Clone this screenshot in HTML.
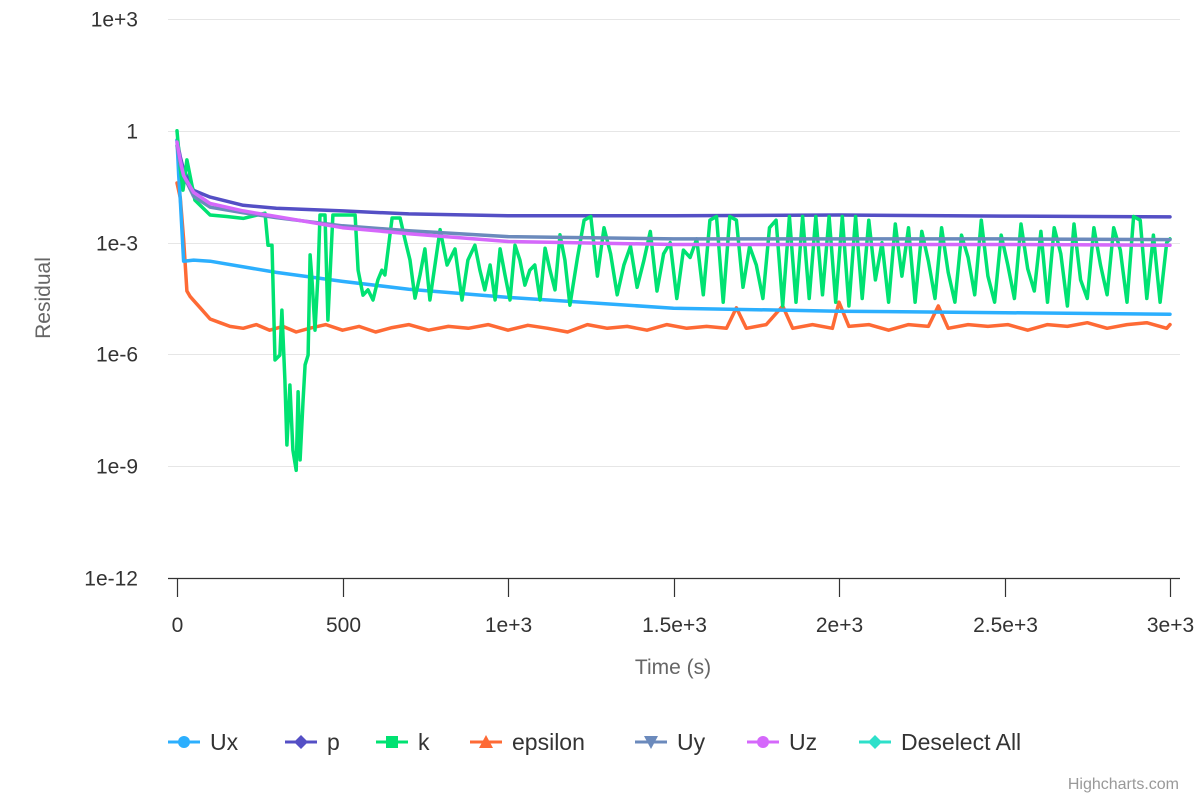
<!DOCTYPE html>
<html><head><meta charset="utf-8"><style>
html,body{margin:0;padding:0;background:#fff;}
svg text{font-family:"Liberation Sans",sans-serif;}
</style></head><body>
<svg id="chart" width="1200" height="800" xmlns="http://www.w3.org/2000/svg">
<rect width="1200" height="800" fill="#fff"/>
<g id="grid"></g>
<g id="axes"></g>
<g id="series"></g>
<text x="50" y="298" transform="rotate(-90 50 298)" text-anchor="middle" font-size="21" fill="#666">Residual</text>
<text x="673" y="674" text-anchor="middle" font-size="21" fill="#666">Time (s)</text>
<g id="legend"></g>
<text x="1179" y="789" text-anchor="end" font-size="16" fill="#999">Highcharts.com</text>
</svg>
<script>
const xTicks=[0,500,1000,1500,2000,2500,3000];
const xTickLabels=["0","500","1e+3","1.5e+3","2e+3","2.5e+3","3e+3"];
const yTicks=[3,0,-3,-6,-9,-12];
const yTickLabels=["1e+3","1","1e-3","1e-6","1e-9","1e-12"];
const seriesNames=["Ux","p","k","epsilon","Uy","Uz","Deselect All"];
const seriesColors=["#2caffe","#544fc5","#00e272","#fe6a35","#6b8abc","#d568fb","#2ee0ca"];

const pTime=[0,10,20,50,100,200,300,500,700,1000,1500,2000,2500,3000];
const pLog=[-0.25,-0.7,-1.05,-1.6,-1.78,-2.0,-2.08,-2.15,-2.23,-2.28,-2.28,-2.26,-2.29,-2.31];
const uyTime=[0,10,20,50,100,200,300,500,700,1000,1500,2000,2500,3000];
const uyLog=[-0.4,-0.9,-1.2,-1.76,-2.05,-2.2,-2.33,-2.55,-2.68,-2.84,-2.9,-2.9,-2.9,-2.92];
const uzTime=[0,10,20,50,100,200,300,500,700,1000,1500,2000,2500,3000];
const uzLog=[-0.3,-0.8,-1.2,-1.65,-1.95,-2.15,-2.3,-2.6,-2.76,-2.97,-3.05,-3.05,-3.05,-3.07];
const uxTime=[0,5,10,20,50,100,300,500,700,1000,1500,2000,2500,3000];
const uxLog=[-0.25,-1.2,-1.86,-3.5,-3.47,-3.5,-3.8,-4.04,-4.25,-4.47,-4.76,-4.84,-4.88,-4.92];
const epsTime=[0,10,20,30,40,50,70,100,130,160,200,240,280,320,360,400,450,500,550,600,650,700,760,820,880,940,1000,1060,1120,1180,1240,1300,1360,1420,1480,1540,1600,1660,1690,1720,1780,1830,1860,1920,1980,2000,2030,2090,2150,2210,2270,2300,2330,2390,2450,2510,2570,2630,2690,2750,2810,2870,2930,2990,3000];
const epsLog=[-1.4,-1.8,-2.9,-4.3,-4.45,-4.55,-4.75,-5.05,-5.15,-5.25,-5.3,-5.2,-5.35,-5.25,-5.4,-5.3,-5.2,-5.35,-5.25,-5.4,-5.28,-5.2,-5.35,-5.25,-5.3,-5.2,-5.35,-5.22,-5.3,-5.4,-5.2,-5.3,-5.25,-5.35,-5.2,-5.3,-5.25,-5.3,-4.75,-5.3,-5.2,-4.7,-5.3,-5.2,-5.3,-4.6,-5.25,-5.2,-5.35,-5.2,-5.25,-4.7,-5.3,-5.2,-5.25,-5.2,-5.35,-5.2,-5.25,-5.15,-5.3,-5.2,-5.15,-5.3,-5.2];
const kTime=[0,10,18,30,54,100,150,200,266,275,287,296,311,317,326,332,341,350,360,366,372,381,387,396,402,408,417,426,432,447,456,471,492,538,547,562,577,592,607,619,628,650,674,689,704,719,734,749,764,795,816,840,861,879,900,915,930,946,961,976,991,1006,1021,1036,1051,1066,1081,1097,1112,1127,1142,1157,1172,1187,1210,1230,1250,1270,1290,1310,1330,1350,1370,1390,1410,1430,1450,1470,1490,1510,1530,1550,1570,1590,1610,1630,1650,1670,1690,1710,1730,1750,1770,1790,1810,1830,1850,1870,1890,1910,1930,1950,1970,1990,2010,2030,2050,2070,2090,2110,2130,2150,2170,2190,2210,2230,2250,2270,2290,2310,2330,2350,2370,2390,2410,2430,2450,2470,2490,2510,2530,2550,2570,2590,2610,2630,2650,2670,2690,2710,2730,2750,2770,2790,2810,2830,2850,2870,2890,2910,2930,2950,2970,2990,3000];
const kLog=[0,-1.0,-1.59,-0.78,-1.86,-2.26,-2.3,-2.35,-2.21,-3.07,-3.07,-6.15,-6.02,-4.81,-6.69,-8.43,-6.82,-8.57,-9.11,-7.0,-8.83,-7.22,-6.28,-6.02,-3.33,-4.0,-5.35,-3.87,-2.26,-2.26,-5.08,-2.26,-2.26,-2.26,-3.74,-4.41,-4.27,-4.54,-4.0,-3.74,-3.87,-2.34,-2.34,-2.93,-3.47,-4.49,-3.87,-3.17,-4.54,-2.65,-3.6,-3.17,-4.54,-3.47,-3.07,-3.74,-4.27,-3.6,-4.54,-3.17,-3.87,-4.54,-3.07,-3.47,-4.14,-3.74,-3.6,-4.54,-3.15,-3.74,-4.27,-2.79,-3.47,-4.68,-3.4,-2.4,-2.3,-3.9,-2.6,-3.3,-4.4,-3.6,-3.1,-4.2,-3.5,-2.7,-4.3,-3.3,-3.0,-4.5,-3.2,-3.4,-2.9,-4.4,-2.4,-2.3,-4.6,-2.3,-2.4,-4.2,-3.1,-3.6,-4.5,-2.6,-2.4,-4.7,-2.3,-4.6,-2.3,-4.5,-2.3,-4.4,-2.3,-4.6,-2.3,-4.7,-2.3,-4.5,-2.4,-4.0,-3.0,-4.6,-2.5,-3.9,-2.6,-4.6,-2.7,-3.5,-4.5,-2.6,-3.8,-4.6,-2.8,-3.4,-4.4,-2.4,-3.9,-4.6,-2.8,-3.6,-4.5,-2.5,-3.7,-4.3,-2.7,-4.6,-2.6,-3.3,-4.7,-2.5,-4.0,-4.5,-2.6,-3.6,-4.4,-2.6,-3.2,-4.6,-2.3,-2.4,-4.5,-2.8,-4.6,-3.0,-2.9];

const NS="http://www.w3.org/2000/svg";
const X0=177,X1=1170,Y0=578,Y1=19;
function xs(t){return X0+(t-0)/(3000-0)*(X1-X0);}
function ys(l){return Y0-(l-(-12))/(3-(-12))*(Y0-Y1);}
function mk(tag,attrs,parent){const e=document.createElementNS(NS,tag);for(const k in attrs)e.setAttribute(k,attrs[k]);parent.appendChild(e);return e;}

const grid=document.getElementById('grid'),axes=document.getElementById('axes'),ser=document.getElementById('series'),leg=document.getElementById('legend');
yTicks.forEach((v,i)=>{
  const y=Math.round(ys(v))+0.5;
  if(v>-12){const g=mk('line',{x1:168,x2:1180,y1:y,y2:y,stroke:'#e6e6e6','stroke-width':1},grid);
  
  }
  const t=mk('text',{x:138,y:y+7,'text-anchor':'end','font-size':21,fill:'#333'},axes);
  t.textContent=yTickLabels[i];
  
  
});
const ax=mk('line',{x1:168,x2:1180,y1:578.5,y2:578.5,stroke:'#333','stroke-width':1.3},axes);


xTicks.forEach((v,i)=>{
  const x=Math.round(xs(v))+0.5;
  const tk=mk('line',{x1:x,x2:x,y1:578,y2:597,stroke:'#333','stroke-width':1.2},axes);
  
  
  const t=mk('text',{x:x,y:632,'text-anchor':'middle','font-size':21,fill:'#333'},axes);
  t.textContent=xTickLabels[i];
  
  
});
function line(T,V,color,name){
  const pts=T.map((t,i)=>xs(t).toFixed(1)+','+ys(V[i]).toFixed(1)).join(' ');
  const p=mk('polyline',{points:pts,fill:'none',stroke:color,'stroke-width':3.5,'stroke-linejoin':'round','stroke-linecap':'round'},ser);
  
  
}
line(pTime,pLog,seriesColors[1],'series-p');
line(epsTime,epsLog,seriesColors[3],'series-epsilon');
line(uxTime,uxLog,seriesColors[0],'series-ux');
line(kTime,kLog,seriesColors[2],'series-k');
line(uyTime,uyLog,seriesColors[4],'series-uy');
line(uzTime,uzLog,seriesColors[5],'series-uz');

const legX=[168,285,376,470,635,747,859];
seriesNames.forEach((n,i)=>{
  const g=mk('g',{},leg);
  
  
  const x=legX[i],y=742,c=seriesColors[i];
  mk('line',{x1:x,x2:x+32,y1:y,y2:y,stroke:c,'stroke-width':3},g);
  const cx=x+16;
  if(i==0||i==5) mk('circle',{cx:cx,cy:y,r:6,fill:c},g);
  else if(i==1||i==6) mk('path',{d:`M${cx} ${y-7}L${cx+7} ${y}L${cx} ${y+7}L${cx-7} ${y}Z`,fill:c},g);
  else if(i==2) mk('rect',{x:cx-6,y:y-6,width:12,height:12,fill:c},g);
  else if(i==3) mk('path',{d:`M${cx} ${y-7}L${cx+7} ${y+6}L${cx-7} ${y+6}Z`,fill:c},g);
  else mk('path',{d:`M${cx-7} ${y-6}L${cx+7} ${y-6}L${cx} ${y+7}Z`,fill:c},g);
  const t=mk('text',{x:x+42,y:y+8,'font-size':23,fill:'#333'},g);
  t.textContent=n;
});
</script>
</body></html>
